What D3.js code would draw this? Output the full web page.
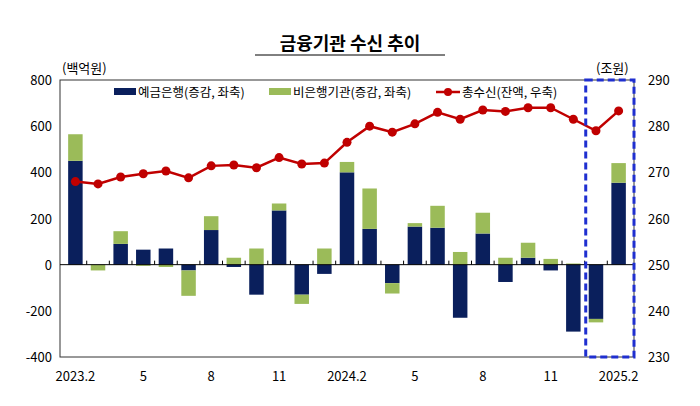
<!DOCTYPE html>
<html><head><meta charset="utf-8">
<script src="https://cdn.jsdelivr.net/npm/d3@7"></script>
<style>body{margin:0;background:#fff;font-family:"Noto Sans CJK KR","Noto Sans",sans-serif}</style>
</head><body>
<script>
var months = ['2023.2','3','4','5','6','7','8','9','10','11','12','2024.1','2024.2','3','4','5','6','7','8','9','10','11','12','2025.1','2025.2'];
var tickLabels = {0:'2023.2',3:'5',6:'8',9:'11',12:'2024.2',15:'5',18:'8',21:'11',24:'2025.2'};
var banks = [450,0,90,65,70,-25,150,-10,-130,235,-130,-40,400,155,-80,165,160,-230,135,-75,30,-25,-290,-235,355];
var nonBanks = [115,-25,55,-5,-10,-110,60,30,70,30,-40,70,45,175,-45,15,95,55,90,30,65,25,5,-15,85];
var total = [268,267.5,269,269.7,270.3,268.8,271.4,271.6,271,273.2,271.8,272,276.5,280,278.7,280.5,283,281.5,283.5,283.2,284,284,281.5,279,283.3];

var W = 700, H = 406;
var m = {l: 60, r: 66, t: 80, b: 49};
var svg = d3.select('body').append('svg').attr('width', W).attr('height', H);

svg.append('text').attr('x', 350).attr('y', 50).attr('text-anchor', 'middle')
    .style('font-size', '18px').style('font-weight', 'bold').text('금융기관 수신 추이');
svg.append('line').attr('x1', 255).attr('x2', 445).attr('y1', 55).attr('y2', 55).attr('stroke', '#000');

var x = d3.scaleBand().domain(d3.range(months.length)).range([m.l, W - m.r]).padding(0.36);
var yL = d3.scaleLinear().domain([-400, 800]).range([H - m.b, m.t]);
var yR = d3.scaleLinear().domain([230, 290]).range([H - m.b, m.t]);

var rows = months.map(function(d, i) { return {bank: banks[i], nb: nonBanks[i]}; });
var series = d3.stack().keys(['bank', 'nb']).offset(d3.stackOffsetDiverging)(rows);
var colors = {bank: '#0a1f5c', nb: '#9bbb59'};

svg.append('rect').attr('x', m.l).attr('y', m.t).attr('width', W - m.l - m.r)
    .attr('height', H - m.t - m.b).attr('fill', 'none').attr('stroke', '#333');

series.forEach(function(s) {
    svg.append('g').selectAll('rect').data(s).enter().append('rect')
        .attr('x', function(d, i) { return x(i); })
        .attr('width', x.bandwidth())
        .attr('y', function(d) { return yL(d[1]); })
        .attr('height', function(d) { return yL(d[0]) - yL(d[1]); })
        .attr('fill', colors[s.key]);
});

svg.append('line').attr('x1', m.l).attr('x2', W - m.r).attr('y1', yL(0)).attr('y2', yL(0)).attr('stroke', '#000');
svg.append('g').selectAll('line').data(d3.range(1, months.length)).enter().append('line')
    .attr('x1', function(i) { return x(i) - x.step() * x.padding() / 2; })
    .attr('x2', function(i) { return x(i) - x.step() * x.padding() / 2; })
    .attr('y1', yL(0)).attr('y2', yL(0) - 4).attr('stroke', '#000');

var line = d3.line().x(function(d, i) { return x(i) + x.bandwidth() / 2; }).y(function(d) { return yR(d); });
svg.append('path').datum(total).attr('d', line).attr('fill', 'none').attr('stroke', '#c00000').attr('stroke-width', 2.5);
svg.append('g').selectAll('circle').data(total).enter().append('circle')
    .attr('cx', function(d, i) { return x(i) + x.bandwidth() / 2; })
    .attr('cy', function(d) { return yR(d); }).attr('r', 4.5).attr('fill', '#c00000');

var fs = '13px';
svg.append('g').selectAll('text').data(yL.ticks(6)).enter().append('text')
    .attr('x', m.l - 8).attr('y', function(d) { return yL(d) + 5; }).attr('text-anchor', 'end')
    .style('font-size', fs).text(function(d) { return d; });
svg.append('g').selectAll('text').data(yR.ticks(6)).enter().append('text')
    .attr('x', W - m.r + 14).attr('y', function(d) { return yR(d) + 5; })
    .style('font-size', fs).text(function(d) { return d; });
svg.append('g').selectAll('text').data(Object.keys(tickLabels)).enter().append('text')
    .attr('x', function(i) { return x(+i) + x.bandwidth() / 2; }).attr('y', H - 25)
    .attr('text-anchor', 'middle').style('font-size', fs).text(function(i) { return tickLabels[i]; });
svg.append('text').attr('x', 62).attr('y', 73).style('font-size', fs).text('(백억원)');
svg.append('text').attr('x', 596).attr('y', 73).style('font-size', fs).text('(조원)');

// highlight box
var last = months.length - 1;
svg.append('rect').attr('x', x(last - 1) - 3).attr('y', m.t).attr('width', W - m.r - x(last - 1) + 3)
    .attr('height', H - m.t - m.b).attr('fill', 'none').attr('stroke', '#1f2fd0')
    .attr('stroke-width', 3).attr('stroke-dasharray', '7,4');

// legend
var lg = svg.append('g').style('font-size', '12.5px');
lg.append('rect').attr('x', 114).attr('y', 88).attr('width', 22).attr('height', 7).attr('fill', colors.bank);
lg.append('text').attr('x', 138).attr('y', 97).text('예금은행(증감, 좌축)');
lg.append('rect').attr('x', 269).attr('y', 88).attr('width', 22).attr('height', 7).attr('fill', colors.nb);
lg.append('text').attr('x', 293).attr('y', 97).text('비은행기관(증감, 좌축)');
lg.append('line').attr('x1', 436).attr('x2', 460).attr('y1', 92).attr('y2', 92).attr('stroke', '#c00000').attr('stroke-width', 2.5);
lg.append('circle').attr('cx', 448).attr('cy', 92).attr('r', 4).attr('fill', '#c00000');
lg.append('text').attr('x', 462).attr('y', 97).text('총수신(잔액, 우축)');
</script>
</body></html>
